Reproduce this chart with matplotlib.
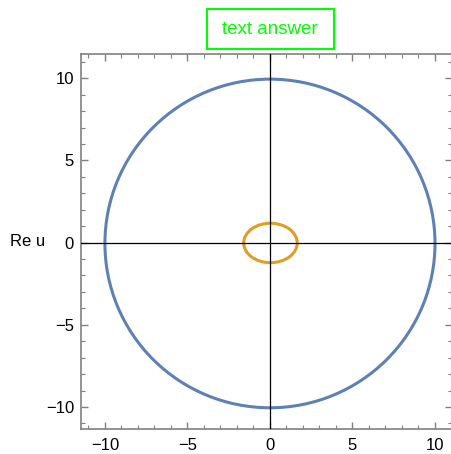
import matplotlib
matplotlib.use("Agg")
import matplotlib.pyplot as plt
import matplotlib.patches as patches
from matplotlib.ticker import MultipleLocator

plt.rcParams['font.family'] = ['Liberation Sans', 'DejaVu Sans']

# kurva: pusat, semi-sumbu x, semi-sumbu y
kurva_nama = ['besar', 'kecil']
kurva_pusat = [(0.0, -0.05), (0.03, -0.02)]
kurva_rx = [10.0, 1.62]
kurva_ry = [10.0, 1.2]
kurva_warna = ['#5E81B5', '#E19C24']

x_lim = (-11.45, 11.03)
y_lim = (-11.36, 11.48)
judul = 'text answer'
label_y = 'Re u'

fig = plt.figure(figsize=(4.51, 4.54), dpi=100)
ax = fig.add_axes([81 / 451, 1 - 429.3 / 454, 371 / 451, (429.3 - 54) / 454])

for pusat, rx, ry, warna in zip(kurva_pusat, kurva_rx, kurva_ry, kurva_warna):
    ax.add_patch(patches.Ellipse(pusat, 2 * rx, 2 * ry, fill=False,
                                 edgecolor=warna, linewidth=2.2, zorder=2))

# sumbu lewat titik nol
ax.axhline(0, color='black', linewidth=0.9, zorder=3)
ax.axvline(0, color='black', linewidth=0.9, zorder=3)

ax.set_xlim(*x_lim)
ax.set_ylim(*y_lim)

ax.xaxis.set_major_locator(MultipleLocator(5))
ax.xaxis.set_minor_locator(MultipleLocator(1))
ax.yaxis.set_major_locator(MultipleLocator(5))
ax.yaxis.set_minor_locator(MultipleLocator(1))
ax.tick_params(which='both', direction='in', top=True, right=True,
               color='#808080', labelsize=12, labelcolor='black')
ax.tick_params(which='major', length=5, width=1)
ax.tick_params(which='minor', length=3, width=0.8)
ax.tick_params(axis='x', pad=6)
ax.tick_params(axis='y', pad=5)
for sp in ax.spines.values():
    sp.set_color('#808080')
    sp.set_linewidth(1.2)

ax.set_ylabel(label_y, rotation=0, fontsize=12, labelpad=0)
ax.yaxis.set_label_coords(-0.145, 0.5, transform=ax.transAxes)
ax.yaxis.label.set_verticalalignment('center')
ax.yaxis.label.set_horizontalalignment('center')

# kotak judul hijau
fig.text(270.3 / 451, 1 - 29.3 / 454, judul, color='#00FF00', fontsize=13.5,
         ha='center', va='center')
fig.patches.append(patches.Rectangle((206.7 / 451, 1 - 49.3 / 454), 127.3 / 451, 40 / 454,
                                     transform=fig.transFigure, fill=False,
                                     edgecolor='#00FF00', linewidth=1.5))

fig.savefig('out.png', dpi=100)
